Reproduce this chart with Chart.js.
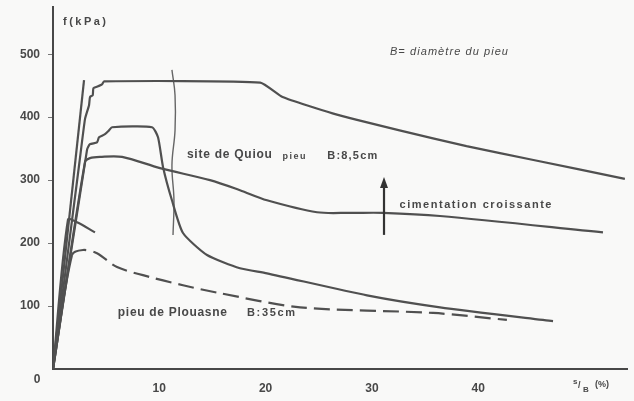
<!DOCTYPE html>
<html lang="fr">
<head>
    <meta charset="UTF-8">
    <title>Frottement latéral f en fonction de s/B</title>
    <script src="https://cdn.jsdelivr.net/npm/chart.js"></script>
    <style>
        body {
            margin: 0;
            padding: 0;
            background-color: #f9f9f8;
        }

        .chart-box {
            width: 634px;
            height: 401px;
            position: relative;
        }
    </style>
</head>
<body>
    <div class="chart-box">
        <canvas id="chart"></canvas>
    </div>

    <script>
        // x : s/B (%), y : f (kPa)
        const yTicks = [100, 200, 300, 400, 500];
        const xTicks = [10, 20, 30, 40];

        // steep straight line (Quiou)
        const steepX = [0, 2.92];
        const steepY = [0, 459];

        // top stepped curve (Quiou)
        const topX = [0, 2.5, 3.01, 3.39, 3.48, 3.74, 3.8, 4.23, 4.61, 4.8, 19.5, 21.6, 26.3, 32.6, 38.9, 45.2, 53.8];
        const topY = [0, 330, 397, 419, 432, 435, 446, 449, 452, 457, 455, 432, 406, 379, 354, 332, 302];

        // stepped curve peaking at ~385 then falling (Quiou)
        const midX = [0, 3.2, 3.48, 4.14, 4.33, 4.89, 5.27, 5.55, 9.31, 9.88, 10.35, 11.19, 12.23, 14.49, 17.59, 20.13, 29.54, 36.41, 47.04];
        const midY = [0, 348, 357, 360, 368, 373, 379, 384, 384, 368, 321, 268, 216, 181, 160, 152, 117, 98, 76];

        // smooth curve peaking at ~337 (Quiou)
        const lowX = [0, 3.01, 3.48, 4.42, 6.5, 10.07, 14.77, 17.59, 20.13, 24.84, 27.94, 31.04, 36.4, 51.74];
        const lowY = [0, 329, 335, 337, 337, 319, 300, 284, 268, 249, 248, 248, 243, 217];

        // short curve (Quiou)
        const shortX = [0, 1.41, 2.26, 3.95];
        const shortY = [0, 237, 233, 217];

        // pieu de Plouasne, dashed
        const plouX = [0, 1.79, 2.82, 4.14, 6.02, 9.13, 12.23, 15.52, 23.24, 35.75, 42.7];
        const plouY = [0, 181, 189, 184, 162, 146, 133, 121, 98, 89, 78];

        // hand-drawn separator line
        const sepX = [11.19, 11.48, 11.48, 11.19, 11.38, 11.29];
        const sepY = [475, 435, 379, 324, 268, 213];

        // "cimentation croissante" arrow
        const arrowX = [31.14, 31.14];
        const arrowY = [213, 305];

        const ink = '#484848';

        function pts(xs, ys) {
            return xs.map((x, i) => ({ x: x, y: ys[i] }));
        }

        function curve(xs, ys, tension, extra) {
            return Object.assign({
                data: pts(xs, ys),
                showLine: true,
                borderColor: '#505050',
                borderWidth: 2.2,
                pointRadius: 0,
                tension: tension,
                fill: false
            }, extra || {});
        }

        // draw text squeezed/stretched to the wanted width
        function fitText(ctx, text, x, y, width, font) {
            ctx.font = font;
            ctx.letterSpacing = '0px';
            const w = ctx.measureText(text).width;
            const gap = (width - w) / Math.max(text.length - 1, 1);
            ctx.letterSpacing = gap.toFixed(2) + 'px';
            ctx.fillText(text, x, y);
            ctx.letterSpacing = '0px';
        }

        const notes = {
            id: 'notes',
            afterDatasetsDraw(chart) {
                const ctx = chart.ctx;
                const sx = chart.scales.x;
                const sy = chart.scales.y;
                const area = chart.chartArea;
                const px = v => sx.getPixelForValue(v);
                const py = v => sy.getPixelForValue(v);
                const bold = s => 'bold ' + s + 'px "Liberation Sans", Arial, sans-serif';

                ctx.save();
                ctx.fillStyle = ink;
                ctx.textBaseline = 'middle';
                ctx.textAlign = 'left';

                fitText(ctx, 'f(kPa)', px(0.94), py(551), 43, bold(11));
                fitText(ctx, 'B= diamètre du pieu', px(31.7), py(503), 118,
                    'italic 11px "Liberation Sans", Arial, sans-serif');
                fitText(ctx, 'site de Quiou', px(12.6), py(340), 85, bold(12));
                fitText(ctx, 'pieu', px(21.6), py(338), 23, bold(9));
                fitText(ctx, 'B:8,5cm', px(25.8), py(338), 50, bold(11));
                fitText(ctx, 'cimentation croissante', px(32.6), py(260), 152, bold(11));
                fitText(ctx, 'pieu de Plouasne', px(6.1), py(89), 109, bold(12));
                fitText(ctx, 'B:35cm', px(18.25), py(89), 48, bold(11));

                // origin label
                ctx.textAlign = 'center';
                ctx.font = bold(12);
                ctx.fillText('0', area.left - 16, area.bottom + 11);

                // axis title s/B (%)
                ctx.textAlign = 'left';
                ctx.font = bold(8);
                ctx.fillText('s', area.right - 54, area.bottom + 13);
                ctx.font = bold(9);
                ctx.fillText('/', area.right - 49, area.bottom + 17);
                ctx.font = bold(8);
                ctx.fillText('B', area.right - 44, area.bottom + 21);
                ctx.font = bold(9);
                ctx.fillText('(%)', area.right - 32, area.bottom + 16);

                // arrow
                const ax = px(arrowX[0]);
                const ay0 = py(arrowY[0]);
                const ay1 = py(arrowY[1]);
                ctx.strokeStyle = '#333';
                ctx.lineWidth = 2.2;
                ctx.beginPath();
                ctx.moveTo(ax, ay0);
                ctx.lineTo(ax, ay1 + 8);
                ctx.stroke();
                ctx.fillStyle = '#333';
                ctx.beginPath();
                ctx.moveTo(ax, ay1);
                ctx.lineTo(ax - 4, ay1 + 11);
                ctx.lineTo(ax + 4, ay1 + 11);
                ctx.closePath();
                ctx.fill();

                ctx.restore();
            }
        };

        const ctx = document.getElementById('chart').getContext('2d');
        new Chart(ctx, {
            type: 'scatter',
            data: {
                datasets: [
                    curve(steepX, steepY, 0),
                    curve(topX, topY, 0.15),
                    curve(midX, midY, 0.2),
                    curve(lowX, lowY, 0.3),
                    curve(shortX, shortY, 0.3),
                    curve(plouX, plouY, 0.3, {
                        segment: {
                            borderDash: c => c.p0.parsed.x > 1 ? [16, 7] : undefined
                        }
                    }),
                    curve(sepX, sepY, 0.4, { borderWidth: 1.4, borderColor: '#666' })
                ]
            },
            options: {
                responsive: true,
                maintainAspectRatio: false,
                animation: false,
                layout: {
                    padding: { left: 0, right: 7, top: 7, bottom: 0 }
                },
                plugins: {
                    legend: { display: false },
                    tooltip: { enabled: false }
                },
                scales: {
                    x: {
                        type: 'linear',
                        min: 0,
                        max: 54,
                        afterFit: s => { s.height = 32; s.paddingLeft = 0; s.paddingRight = 0; },
                        afterBuildTicks: s => { s.ticks = xTicks.map(v => ({ value: v })); },
                        grid: { display: true, drawOnChartArea: false, drawTicks: false },
                        border: { display: true, color: ink, width: 2 },
                        ticks: {
                            color: ink,
                            padding: 14,
                            maxRotation: 0,
                            font: { family: '"Liberation Sans", Arial, sans-serif', size: 12, weight: 'bold', lineHeight: 1 }
                        }
                    },
                    y: {
                        type: 'linear',
                        min: 0,
                        max: 575,
                        afterFit: s => { s.width = 53; s.paddingTop = 0; s.paddingBottom = 0; },
                        afterBuildTicks: s => { s.ticks = yTicks.map(v => ({ value: v })); },
                        grid: { display: true, drawOnChartArea: false, drawTicks: true, tickLength: 5, color: '#777' },
                        border: { display: true, color: ink, width: 2 },
                        ticks: {
                            color: ink,
                            padding: 8,
                            font: { family: '"Liberation Sans", Arial, sans-serif', size: 12, weight: 'bold', lineHeight: 1 }
                        }
                    }
                }
            },
            plugins: [notes]
        });
    </script>
</body>
</html>
